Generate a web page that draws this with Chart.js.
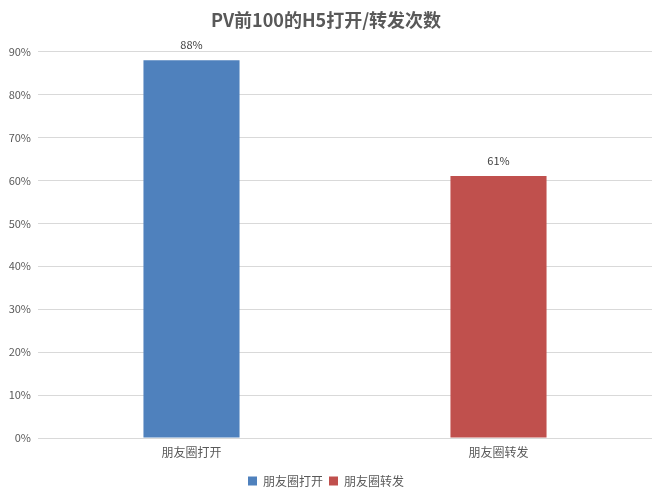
<!DOCTYPE html>
<html lang="zh">
<head>
    <meta charset="UTF-8">
    <title>PV前100的H5打开/转发次数</title>
    <script src="https://cdn.jsdelivr.net/npm/chart.js"></script>
    <style>
        html, body { margin: 0; padding: 0; background: #fff; }
        #wrap { width: 667px; height: 501px; }
    </style>
</head>
<body>
    <div id="wrap"><canvas id="chart" width="667" height="501"></canvas></div>
    <script>
        // data
        const categories = ['朋友圈打开', '朋友圈转发'];
        const values = [0.88, 0.61];
        const barColors = ['#4F81BD', '#C0504D'];
        const yTicks = [0, 0.1, 0.2, 0.3, 0.4, 0.5, 0.6, 0.7, 0.8, 0.9];

        const FONT = "'Noto Sans CJK SC', 'Noto Sans', sans-serif";
        const pct = v => Math.round(v * 100) + '%';

        // value labels above each bar
        const barLabels = {
            id: 'barLabels',
            afterDatasetsDraw(chart) {
                const ctx = chart.ctx;
                const meta = chart.getDatasetMeta(0);
                ctx.save();
                ctx.font = '11px ' + FONT;
                ctx.fillStyle = '#404040';
                ctx.textAlign = 'center';
                ctx.textBaseline = 'middle';
                meta.data.forEach((bar, i) => {
                    ctx.fillText(pct(values[i]), bar.x, bar.y - 15);
                });
                ctx.restore();
            }
        };

        new Chart(document.getElementById('chart'), {
            type: 'bar',
            data: {
                labels: categories,
                datasets: [{
                    data: values,
                    backgroundColor: barColors,
                    borderWidth: 0,
                    categoryPercentage: 1,
                    barPercentage: 0.313
                }]
            },
            options: {
                responsive: false,
                animation: false,
                layout: { padding: { left: 0, right: 15, bottom: 4 } },
                plugins: {
                    title: {
                        display: true,
                        text: 'PV前100的H5打开/转发次数',
                        color: '#595959',
                        font: { family: FONT, size: 18, weight: 'bold' },
                        padding: { top: 9, bottom: 21 }
                    },
                    legend: {
                        position: 'bottom',
                        labels: {
                            color: '#595959',
                            font: { family: FONT, size: 12 },
                            boxWidth: 9,
                            boxHeight: 9,
                            padding: 6,
                            generateLabels: () => categories.map((c, i) => ({
                                text: c,
                                fillStyle: barColors[i],
                                strokeStyle: barColors[i],
                                lineWidth: 0,
                                fontColor: '#595959',
                                index: i
                            }))
                        }
                    },
                    tooltip: { enabled: false }
                },
                scales: {
                    x: {
                        grid: { display: false, drawTicks: false },
                        border: { display: false },
                        ticks: {
                            color: '#595959',
                            font: { family: FONT, size: 12 },
                            padding: 7
                        },
                        afterFit: s => { s.height = 31; }
                    },
                    y: {
                        min: 0,
                        max: 0.9,
                        afterBuildTicks: s => { s.ticks = yTicks.map(v => ({ value: v })); },
                        grid: { color: '#D9D9D9', drawTicks: false },
                        border: { display: false },
                        ticks: {
                            color: '#595959',
                            font: { family: FONT, size: 11 },
                            padding: 7,
                            callback: v => pct(v)
                        },
                        afterFit: s => { s.width = 38; }
                    }
                }
            },
            plugins: [barLabels]
        });
    </script>
</body>
</html>
